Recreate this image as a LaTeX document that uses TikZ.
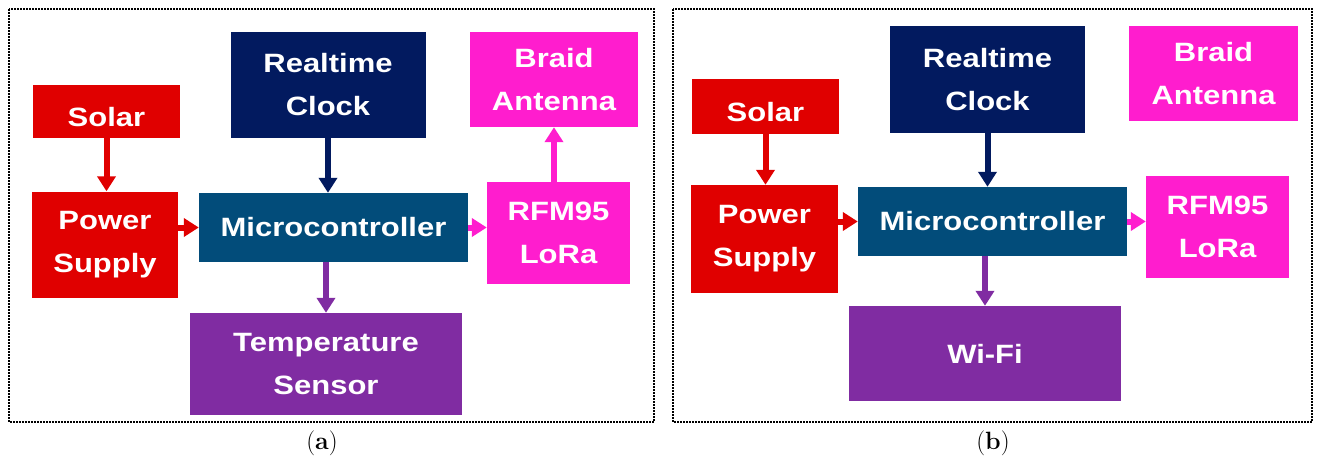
\documentclass[tikz,border=0pt]{standalone}
\usepackage{fontspec}
\newfontfamily\boxfont{Liberation Sans Bold}[FakeStretch=1.17]
\usetikzlibrary{arrows.meta}
\definecolor{cred}{HTML}{E00000}
\definecolor{cnavy}{HTML}{021A5F}
\definecolor{cmicro}{HTML}{024C7A}
\definecolor{cmag}{HTML}{FF1DCE}
\definecolor{cpurp}{HTML}{802CA2}
\tikzset{
  blk/.style={rectangle, inner sep=0pt, text=white, align=center,
    font=\boxfont\fontsize{26.5}{43}\selectfont},
  lowtext/.style={text height=29pt, text depth=0pt},
  conn/.style={line width=6pt, -{Triangle[width=18pt,length=15pt]}},
  frame/.style={line width=1.6pt, dash pattern=on 1.6pt off 1.4pt},
  captext/.style={font=\fontsize{25}{28}\selectfont}
}
\begin{document}
\begin{tikzpicture}[x=1pt,y=-1pt]
\useasboundingbox (0,0) rectangle (1317,460);
% panel frames
\draw[frame] (9,9) rectangle (654,422);
\draw[frame] (673,9) rectangle (1312,422);
\node[captext] (capA) at (322,443) {(\textbf{a})};
\node[captext] (capB) at (993,443) {(\textbf{b})};
% ---------- panel (a)
\node[blk, lowtext, fill=cred, minimum width=147pt, minimum height=53pt] (solarA) at (106.5,111.5) {Solar};
\node[blk, fill=cred, minimum width=146pt, minimum height=106pt] (powerA) at (105,244.5) {Power\\Supply};
\node[blk, fill=cnavy, minimum width=195pt, minimum height=106pt] (clockA) at (328,85) {Realtime\\Clock};
\node[blk, fill=cmicro, minimum width=269pt, minimum height=69pt] (microA) at (333.5,227.5) {Microcontroller};
\node[blk, fill=cmag, minimum width=168pt, minimum height=95pt] (braidA) at (554,79.5) {Braid\\Antenna};
\node[blk, fill=cmag, minimum width=143pt, minimum height=102pt] (rfmA) at (558.5,233) {RFM95\\LoRa};
\node[blk, fill=cpurp, minimum width=272pt, minimum height=102pt] (tempA) at (326,364) {Temperature\\Sensor};
\draw[conn, cred] (solarA.south) -- (solarA.south |- powerA.north);
\draw[conn, cred] (powerA.east |- microA) -- (microA.west);
\draw[conn, cnavy] (clockA.south) -- (clockA.south |- microA.north);
\draw[conn, cpurp] (microA.south -| tempA) -- (tempA.north);
\draw[conn, cmag] (microA.east) -- (microA.east -| rfmA.west);
\draw[conn, cmag] (rfmA.north -| braidA) -- (braidA.south);
% ---------- panel (b)
\node[blk, lowtext, fill=cred, minimum width=147pt, minimum height=55pt] (solarB) at (765.5,106.5) {Solar};
\node[blk, fill=cred, minimum width=147pt, minimum height=108pt] (powerB) at (764.5,239) {Power\\Supply};
\node[blk, fill=cnavy, minimum width=195pt, minimum height=107pt] (clockB) at (987.5,79.5) {Realtime\\Clock};
\node[blk, fill=cmag, minimum width=169pt, minimum height=95pt] (braidB) at (1213.5,73.5) {Braid\\Antenna};
\node[blk, fill=cmicro, minimum width=269pt, minimum height=69pt] (microB) at (992.5,221.5) {Microcontroller};
\node[blk, fill=cmag, minimum width=143pt, minimum height=102pt] (rfmB) at (1217.5,227) {RFM95\\LoRa};
\node[blk, fill=cpurp, minimum width=272pt, minimum height=95pt] (wifiB) at (985,353.5) {Wi-Fi};
\draw[conn, cred] (solarB.south) -- (solarB.south |- powerB.north);
\draw[conn, cred] (powerB.east |- microB) -- (microB.west);
\draw[conn, cnavy] (clockB.south) -- (clockB.south |- microB.north);
\draw[conn, cpurp] (microB.south -| wifiB) -- (wifiB.north);
\draw[conn, cmag] (microB.east) -- (microB.east -| rfmB.west);
\end{tikzpicture}
\end{document}
